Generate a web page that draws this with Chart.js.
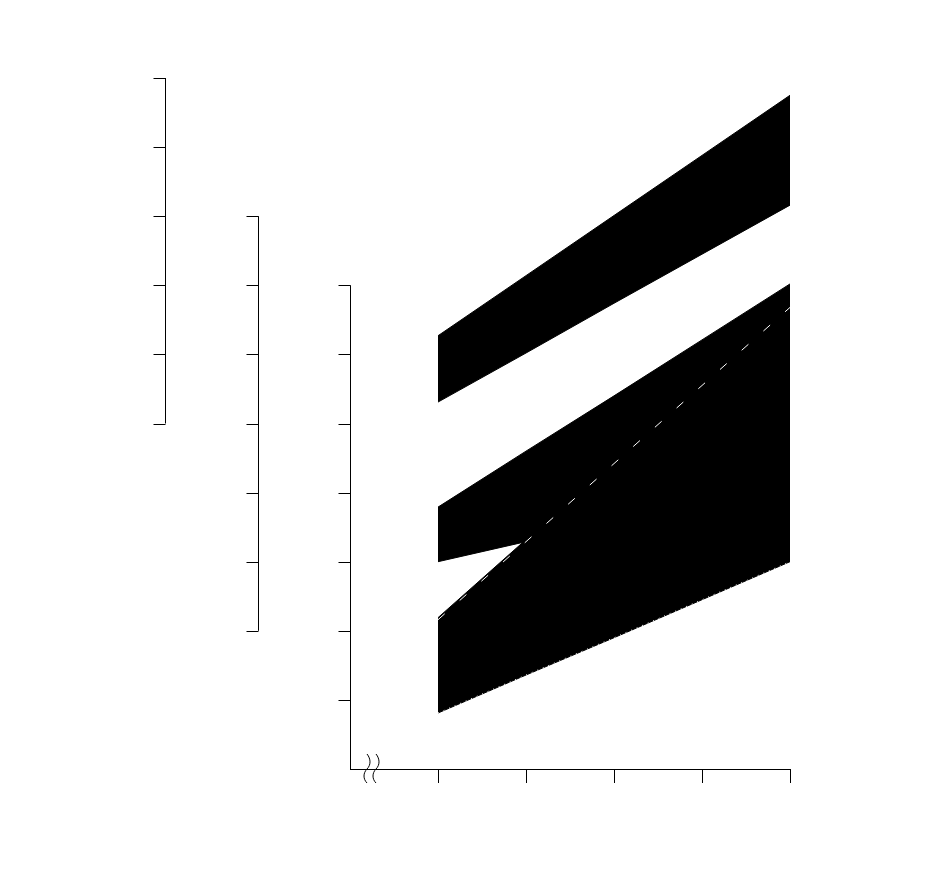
<!DOCTYPE html>
<html>
<head>
<meta charset="utf-8">
<script src="https://cdn.jsdelivr.net/npm/chart.js@4.4.1/dist/chart.umd.min.js"></script>
<style>
  body { margin: 0; background: #fff; }
</style>
</head>
<body>
<canvas id="chart" width="950" height="870"></canvas>
<script>
// x positions of the readings (axis ticks 1..5, axis starts at 0 with a break)
const xValues = [1, 2, 3, 4, 5];
const xTicks = [1, 2, 3, 4, 5];

// band edges
const band1Lower = [5.31, 6.02, 6.74, 7.45, 8.16];
const band1Upper = [6.27, 7.14, 8.01, 8.88, 9.75];
const band2Lower = [3.00, 3.29, 3.58, 3.88, 4.17];
const band2Upper = [3.79, 4.60, 5.40, 6.21, 7.02];
const band3Lower = [0.81, 1.36, 1.90, 2.45, 3.00];
const band3Upper = [2.19, 3.32, 4.45, 5.58, 6.71];
// thin white dashes just under the top edge of band 3
const band3Gap = [2.16, 3.29, 4.42, 5.55, 6.68];

// the three stacked left axes: [from, to] in y units
const yAxisRanges = [[5, 10], [2, 8], [0, 7]];

function pts(ys) {
  return xValues.map((x, i) => ({ x: x, y: ys[i] }));
}

function edge(ys, fill) {
  return {
    data: pts(ys),
    borderColor: "#000",
    backgroundColor: "#000",
    borderWidth: 1,
    pointRadius: 0,
    fill: fill,
  };
}

// draws the three y spines and the break mark on the x axis
const axesPlugin = {
  id: "axes",
  afterDraw(chart) {
    const ctx = chart.ctx;
    const y = chart.scales.y;
    const left = chart.chartArea.left;
    const spineX = [left - 185, left - 92, left];
    ctx.save();
    ctx.strokeStyle = "#000";
    ctx.lineWidth = 1;
    yAxisRanges.forEach(function (r, i) {
      const sx = Math.round(spineX[i]) + 0.5;
      ctx.beginPath();
      ctx.moveTo(sx, y.getPixelForValue(r[0]));
      ctx.lineTo(sx, y.getPixelForValue(r[1]));
      for (let v = r[0]; v <= r[1]; v++) {
        if (v === 0) continue;
        const py = Math.round(y.getPixelForValue(v)) + 0.5;
        ctx.moveTo(sx, py);
        ctx.lineTo(sx - 12, py);
      }
      ctx.stroke();
    });
    // axis break: two small wavy strokes
    const by = chart.scales.x.top;
    [17, 26].forEach(function (dx) {
      const bx = left + dx;
      ctx.beginPath();
      ctx.moveTo(bx, by - 15);
      ctx.bezierCurveTo(bx + 4, by - 10, bx + 4, by - 4, bx, by);
      ctx.bezierCurveTo(bx - 4, by + 4, bx - 4, by + 10, bx, by + 14);
      ctx.stroke();
    });
    ctx.restore();
  },
};

const ctx = document.getElementById("chart").getContext("2d");
new Chart(ctx, {
  type: "line",
  data: {
    datasets: [
      {
        data: pts(band3Gap),
        borderColor: "#fff",
        borderWidth: 1,
        borderDash: [9, 20],
        pointRadius: 0,
        fill: false,
      },
      {
        data: pts(band3Lower),
        borderColor: "#fff",
        borderWidth: 1,
        borderDash: [1, 5],
        pointRadius: 0,
        fill: false,
      },
      edge(band1Lower, false),
      edge(band1Upper, "-1"),
      edge(band2Lower, false),
      edge(band2Upper, "-1"),
      edge(band3Lower, false),
      edge(band3Upper, "-1"),
    ],
  },
  options: {
    responsive: false,
    animation: false,
    layout: {
      padding: { left: 350, right: 160, top: 78, bottom: 87 },
    },
    plugins: {
      legend: { display: false },
      tooltip: { enabled: false },
    },
    scales: {
      x: {
        type: "linear",
        min: 0,
        max: 5,
        afterBuildTicks: function (s) {
          s.ticks = xTicks.map((v) => ({ value: v }));
        },
        ticks: { display: false },
        grid: {
          drawOnChartArea: false,
          drawTicks: true,
          tickLength: 14,
          color: "#000",
        },
        border: { display: true, color: "#000", width: 1 },
      },
      y: {
        display: false,
        min: 0,
        max: 10,
      },
    },
  },
  plugins: [axesPlugin],
});
</script>
</body>
</html>
